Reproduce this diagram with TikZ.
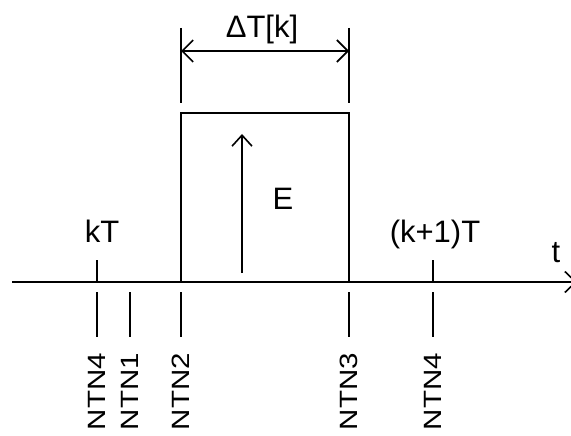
\documentclass[tikz,border=0pt]{standalone}
\usepackage{fontspec}
\setmainfont{Liberation Sans}
\newfontfamily\ntnfont[FakeStretch=1.18]{Liberation Sans}
\usetikzlibrary{arrows.meta,positioning,calc}
\tikzset{
  wire/.style={line width=1.6pt, black},
  barbarrow/.style={-{Straight Barb[length=11pt,width=21pt]}, line width=1.6pt},
  dimarrow/.style={{Straight Barb[length=11pt,width=22pt]}-{Straight Barb[length=11pt,width=22pt]}, line width=1.6pt},
  lbl/.style={font=\fontsize{31}{31}\selectfont, inner sep=0pt, anchor=base},
  ntn/.style={font=\ntnfont\fontsize{25}{25}\selectfont, rotate=90, inner sep=0pt, anchor=east}
}

\begin{document}
\begin{tikzpicture}[x=1pt, y=-1pt]
  \useasboundingbox (0,0) rectangle (571,436);
  \clip (0,0) rectangle (571,436);

  % time axis
  \coordinate (t0) at (12,282);
  \coordinate (t1) at (577,282);
  \draw[barbarrow] (t0) -- (t1);

  % pulse
  \coordinate (p0) at (181,282);
  \coordinate (p1) at (181,113);
  \coordinate (p2) at (349,113);
  \coordinate (p3) at (349,282);
  \draw[wire] (p0) -- (p1) -- (p2) -- (p3);

  % amplitude arrow
  \coordinate (e0) at (242,273);
  \coordinate (e1) at (242,134);
  \draw[barbarrow, -{Straight Barb[length=11pt,width=20pt]}] (e0) -- (e1);
  \node[lbl] (E) at (283,209) {E};

  % width dimension
  \coordinate (d0) at (181,28);
  \coordinate (d1) at (181,103);
  \coordinate (d2) at (349,28);
  \coordinate (d3) at (349,103);
  \draw[wire] (d0) -- (d1);
  \draw[wire] (d2) -- (d3);
  \coordinate (da) at (181,51);
  \coordinate (db) at (349,51);
  \draw[dimarrow] (da) -- (db);
  \node[lbl] (dT) at (262,38) {ΔT[k]};

  % period marks
  \coordinate (kTa) at (97,260);
  \coordinate (kTb) at (97,282);
  \coordinate (k1a) at (433,260);
  \coordinate (k1b) at (433,282);
  \draw[wire] (kTa) -- (kTb);
  \draw[wire] (k1a) -- (k1b);
  \node[lbl] (kT) at (102,242) {kT};
  \node[lbl] (k1T) at (435,242) {(k+1)T};
  \node[lbl] (t) at (556,262) {t};

  % instants
  \foreach \x/\name/\txt in {97/na/NTN4, 130/nb/NTN1, 181/nc/NTN2, 349/nd/NTN3, 433/ne/NTN4}{
    \coordinate (\name a) at (\x,292);
    \coordinate (\name b) at (\x,337);
    \draw[wire] (\name a) -- (\name b);
    \node[ntn] (\name) at (\x,353) {\txt};
  }
\end{tikzpicture}
\end{document}
